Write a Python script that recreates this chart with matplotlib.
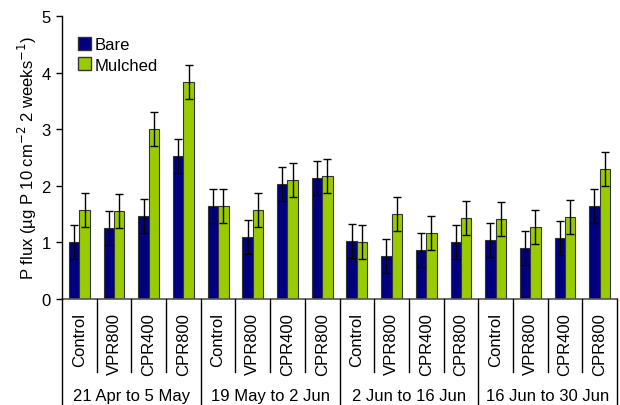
import matplotlib
matplotlib.use("Agg")
import matplotlib.pyplot as plt
from matplotlib.patches import Patch
import numpy as np

plt.rcParams['font.family'] = ['Liberation Sans', 'DejaVu Sans']

periods = ['21 Apr to 5 May', '19 May to 2 Jun', '2 Jun to 16 Jun', '16 Jun to 30 Jun']
treatments = ['Control', 'VPR800', 'CPR400', 'CPR800']

bare = [1.00, 1.25, 1.46, 2.52,
        1.64, 1.10, 2.03, 2.13,
        1.02, 0.76, 0.86, 1.01,
        1.05, 0.90, 1.08, 1.64]
mulched = [1.58, 1.55, 3.00, 3.83,
           1.64, 1.57, 2.11, 2.17,
           1.00, 1.50, 1.16, 1.43,
           1.42, 1.28, 1.45, 2.30]
bare_se = [0.30] * 16
mulched_se = [0.30] * 16

navy = '#000080'
green = '#99cc00'

fig = plt.figure(figsize=(6.2, 4.06), dpi=100)
ax = fig.add_axes([62 / 620, 106 / 406, 555 / 620, 283 / 406])

x = np.arange(len(bare))
w = 0.3
eb = dict(ecolor='black', elinewidth=1, capsize=3, capthick=1)
ax.bar(x - w / 2, bare, w, yerr=bare_se, color=navy, edgecolor='#333333',
       linewidth=0.8, error_kw=eb, label='Bare')
ax.bar(x + w / 2, mulched, w, yerr=mulched_se, color=green, edgecolor='#333333',
       linewidth=0.8, error_kw=eb, label='Mulched')

ax.set_xlim(-0.5, len(bare) - 0.5)
ax.set_ylim(0, 5)
ax.set_yticks(range(6))
ax.tick_params(axis='y', direction='out', length=4, width=1, labelsize=12, pad=4)
ax.set_xticks([])
for s in ('top', 'right'):
    ax.spines[s].set_visible(False)
ax.spines['bottom'].set_visible(False)
ax.spines['left'].set_linewidth(1)

ax.set_ylabel('P flux (µg P 10 cm$^{-2}$ 2 weeks$^{-1}$)', fontsize=12, labelpad=2)

# two-level category axis drawn below the plot area
px = 1 / 283.0
trans = ax.get_xaxis_transform()
ax.plot([-0.5, len(bare) - 0.5], [0, 0], transform=trans, color='#555555',
        lw=1.2, clip_on=False)
n_t = len(treatments)
for i in range(len(bare) + 1):
    xb = i - 0.5
    low = -106 * px if i % n_t == 0 else -73 * px
    ax.plot([xb, xb], [0, low], transform=trans, color='black', lw=1,
            clip_on=False)
for i in range(len(bare)):
    ax.text(i, -13 * px, treatments[i % n_t], transform=trans, rotation=90,
            ha='center', va='top', fontsize=12)
for j, p in enumerate(periods):
    ax.text(j * n_t + (n_t - 1) / 2, -97 * px, p, transform=trans,
            ha='center', va='center', fontsize=12)

handles = [Patch(facecolor=navy, edgecolor='#333333', label='Bare'),
           Patch(facecolor=green, edgecolor='#333333', label='Mulched')]
ax.legend(handles=handles, loc='upper left', bbox_to_anchor=(0.029, 0.925),
          frameon=False, fontsize=12, handlelength=0.8, handleheight=0.8,
          handletextpad=0.2, labelspacing=0.3, borderaxespad=0, borderpad=0)

fig.savefig('out.png', dpi=100)
